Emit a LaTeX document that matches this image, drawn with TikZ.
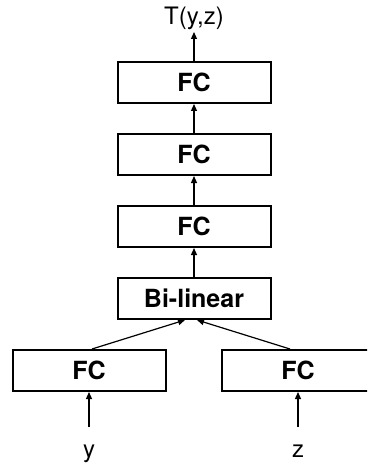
\documentclass[tikz,border=0pt]{standalone}
\usepackage{fontspec}
\setmainfont{TeX Gyre Heros}
\usepackage{tikz}
\usetikzlibrary{arrows.meta,positioning}

\tikzset{
  layer/.style={draw,line width=2pt,minimum width=153pt,minimum height=41pt,
    inner sep=0pt,font=\bfseries\fontsize{25}{30}\selectfont},
  inp/.style={inner sep=0pt,font=\fontsize{24}{28}\selectfont}
}

\begin{document}
\begin{tikzpicture}[x=1pt,y=1pt,->,>={Triangle[length=7pt,width=6pt]},line width=1.2pt]
\useasboundingbox (0,-468) rectangle (367,0);
\clip (0,-468) rectangle (367,0);
\node[layer] (fc1) at (194,-82.5) {FC};
\node[layer] (fc2) [below=29pt of fc1] {FC};
\node[layer] (fc3) [below=29pt of fc2] {FC};
\node[layer] (bil) [below=29pt of fc3] {Bi-linear};
\node[layer] (fcy) [below=29pt of bil,xshift=-105pt] {FC};
\node[layer] (fcz) [below=29pt of bil,xshift=104pt] {FC};
\node[inp] (out) [above=31pt of fc1] {T(y,z)};
\node[inp] (y) [below=52pt of fcy] {y};
\node[inp] (z) [below=52pt of fcz] {z};
% inputs
\draw[shorten <=17pt] (y) -- (fcy);
\draw[shorten <=17pt] (z) -- (fcz);
% merge into the bilinear layer
\draw ([xshift=3pt]fcy.north) -- ([xshift=-9pt]bil.south);
\draw ([xshift=-8pt]fcz.north) -- ([xshift=3pt]bil.south);
% stack
\path (bil) edge (fc3);
\path (fc3) edge (fc2);
\path (fc2) edge (fc1);
\draw[shorten >=2pt] (fc1) -- (out);
\end{tikzpicture}
\end{document}
